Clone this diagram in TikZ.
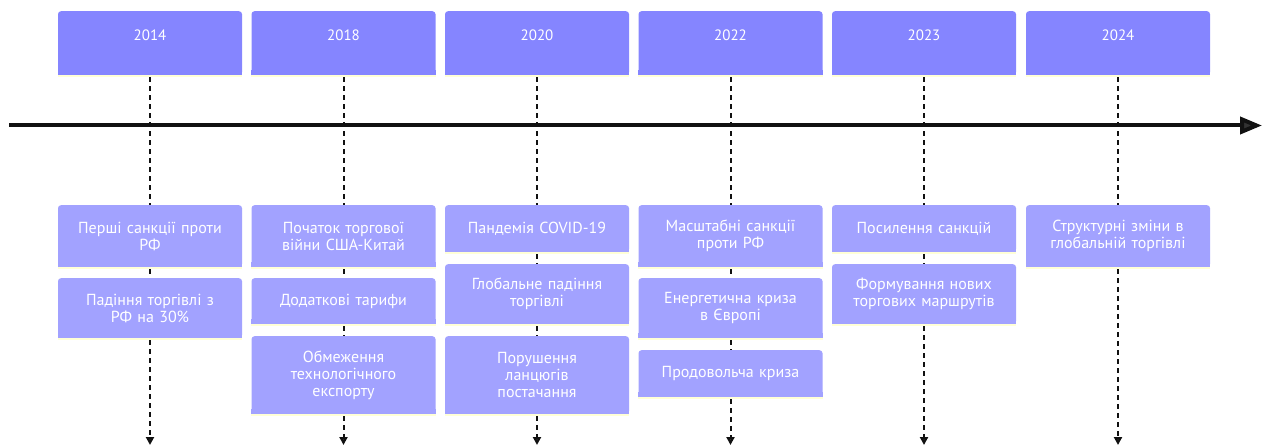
\documentclass[tikz,border=0pt]{standalone}
\usepackage{fontspec}
\setmainfont{PT Sans}
\usetikzlibrary{arrows.meta}
\definecolor{yearfill}{RGB}{133,133,255}
\definecolor{eventfill}{RGB}{162,162,255}
\definecolor{edgeyellow}{RGB}{255,255,214}
\definecolor{axiscol}{RGB}{17,17,17}
\definecolor{tipcol}{RGB}{51,51,51}
\tikzset{
  yearbox/.style={fill=yearfill, rounded corners=3pt, minimum width=184pt, inner xsep=0pt, inner ysep=0pt,
    text height=29.5pt, text depth=34.5pt, text=white, font=\fontsize{15pt}{17pt}\selectfont, anchor=north},
  eventbox/.style={fill=eventfill, rounded corners=3pt, minimum width=184pt, text width=176pt, align=center,
    inner xsep=4pt, inner ysep=0pt, text=white, font=\fontsize{16pt}{17pt}\selectfont, anchor=north},
  link/.style={draw=axiscol, line width=2pt, dash pattern=on 5pt off 4pt},
  lastlink/.style={link, -{Triangle[length=8pt,width=8pt,fill=tipcol]}},
  axisline/.style={draw=axiscol, line width=4pt, -{Triangle[length=22pt,width=17pt,fill=tipcol]}},
}
\newcommand{\squarebottom}[2]{%
  \fill[#2] ([yshift=-0.01pt]#1.south west) rectangle ([yshift=5pt]#1.south east);
  \draw[edgeyellow, line width=2pt] ([yshift=-1pt]#1.south west) -- ([yshift=-1pt]#1.south east);
}
\begin{document}
\begin{tikzpicture}[x=1pt,y=-1pt]
\useasboundingbox (0,0) rectangle (1263,446);
% year boxes
\node[yearbox] (y1) at (150,11) {2014};
\node[yearbox] (y2) at (343.5,11) {2018};
\node[yearbox] (y3) at (537,11) {2020};
\node[yearbox] (y4) at (730.5,11) {2022};
\node[yearbox] (y5) at (924,11) {2023};
\node[yearbox] (y6) at (1118,11) {2024};
% events 2014
\node[eventbox, minimum height=62pt] (a1) at (150,205) {Перші санкції проти\\РФ};
\node[eventbox, minimum height=60pt] (a2) at (150,278) {Падіння торгівлі з\\РФ на 30\%};
% events 2018
\node[eventbox, minimum height=62pt] (b1) at (343.5,205) {Початок торгової\\війни США-Китай};
\node[eventbox, minimum height=46pt] (b2) at (343.5,278) {Додаткові тарифи};
\node[eventbox, minimum height=78pt] (b3) at (343.5,336) {Обмеження\\технологічного\\експорту};
% events 2020
\node[eventbox, minimum height=47pt] (c1) at (537,205) {Пандемія COVID-19};
\node[eventbox, minimum height=60pt] (c2) at (537,264) {Глобальне падіння\\торгівлі};
\node[eventbox, minimum height=78pt] (c3) at (537,336) {Порушення\\ланцюгів\\постачання};
% events 2022
\node[eventbox, minimum height=62pt] (d1) at (730.5,205) {Масштабні санкції\\проти РФ};
\node[eventbox, minimum height=60pt] (d2) at (730.5,278) {Енергетична криза\\в Європі};
\node[eventbox, minimum height=47pt] (d3) at (730.5,350) {Продовольча криза};
% events 2023
\node[eventbox, minimum height=47pt] (e1) at (924,205) {Посилення санкцій};
\node[eventbox, minimum height=60pt] (e2) at (924,264) {Формування нових\\торгових маршрутів};
% events 2024
\node[eventbox, minimum height=62pt] (f1) at (1118,205) {Структурні зміни в\\глобальній торгівлі};
% square bottoms
\squarebottom{y1}{yearfill}\squarebottom{y2}{yearfill}\squarebottom{y3}{yearfill}
\squarebottom{y4}{yearfill}\squarebottom{y5}{yearfill}\squarebottom{y6}{yearfill}
\squarebottom{a1}{eventfill}\squarebottom{a2}{eventfill}
\squarebottom{b1}{eventfill}\squarebottom{b2}{eventfill}\squarebottom{b3}{eventfill}
\squarebottom{c1}{eventfill}\squarebottom{c2}{eventfill}\squarebottom{c3}{eventfill}
\squarebottom{d1}{eventfill}\squarebottom{d2}{eventfill}\squarebottom{d3}{eventfill}
\squarebottom{e1}{eventfill}\squarebottom{e2}{eventfill}
\squarebottom{f1}{eventfill}
% end coordinates
\coordinate (z1) at (150,445);
\coordinate (z2) at (343.5,445);
\coordinate (z3) at (537,445);
\coordinate (z4) at (730.5,445);
\coordinate (z5) at (924,445);
\coordinate (z6) at (1118,445);
% dashed links
\draw[link] ([yshift=-2pt]y1.south) -- (a1.north);
\draw[link] ([yshift=-2pt]a1.south) -- (a2.north);
\draw[lastlink] ([yshift=-2pt]a2.south) -- (z1);
\draw[link] ([yshift=-2pt]y2.south) -- (b1.north);
\draw[link] ([yshift=-2pt]b1.south) -- (b2.north);
\draw[link] ([yshift=-2pt]b2.south) -- (b3.north);
\draw[lastlink] ([yshift=-2pt]b3.south) -- (z2);
\draw[link] ([yshift=-2pt]y3.south) -- (c1.north);
\draw[link] ([yshift=-2pt]c1.south) -- (c2.north);
\draw[link] ([yshift=-2pt]c2.south) -- (c3.north);
\draw[lastlink] ([yshift=-2pt]c3.south) -- (z3);
\draw[link] ([yshift=-2pt]y4.south) -- (d1.north);
\draw[link] ([yshift=-2pt]d1.south) -- (d2.north);
\draw[link] ([yshift=-2pt]d2.south) -- (d3.north);
\draw[lastlink] ([yshift=-2pt]d3.south) -- (z4);
\draw[link] ([yshift=-2pt]y5.south) -- (e1.north);
\draw[link] ([yshift=-2pt]e1.south) -- (e2.north);
\draw[lastlink] ([yshift=-2pt]e2.south) -- (z5);
\draw[link] ([yshift=-2pt]y6.south) -- (f1.north);
\draw[lastlink] ([yshift=-2pt]f1.south) -- (z6);
% axis
\coordinate (axS) at (9,125.5);
\coordinate (axE) at (1262,125.5);
\draw[axisline] (axS) -- (axE);
\end{tikzpicture}
\end{document}
